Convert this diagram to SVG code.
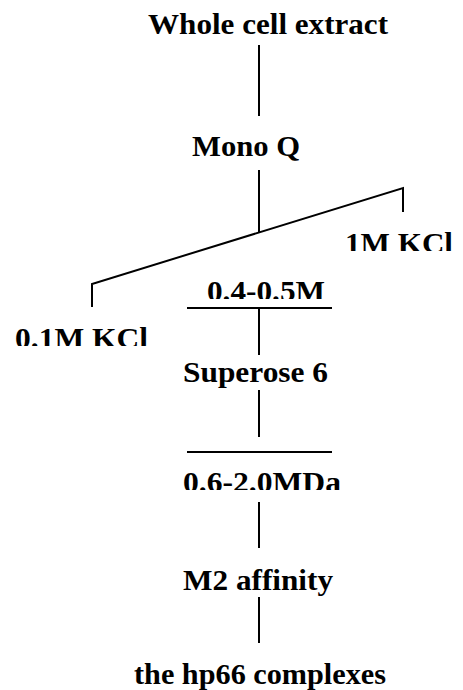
<svg xmlns="http://www.w3.org/2000/svg" width="463" height="690" viewBox="0 0 463 690">
<style>
text{font-family:'Liberation Serif','Times New Roman',serif;font-weight:bold;font-size:30px;fill:#000}
.c{stroke:#000;stroke-width:2;fill:none}
</style>
<defs>
<clipPath id="c1"><rect x="330" y="220" width="133" height="31"/></clipPath>
<clipPath id="c2"><rect x="0" y="315" width="170" height="31"/></clipPath>
<clipPath id="c3"><rect x="190" y="270" width="150" height="29"/></clipPath>
<clipPath id="c4"><rect x="170" y="462" width="190" height="28"/></clipPath>
</defs>
<rect width="463" height="690" fill="#fff"/>
<g id="connectors">
<line class="c" x1="259" y1="45" x2="259" y2="116"/>
<line class="c" x1="259" y1="170" x2="259" y2="233"/>
<polyline class="c" points="92,307 92,284 403,188 403,212"/>
<line class="c" x1="187" y1="308" x2="332" y2="308"/>
<line class="c" x1="259" y1="308" x2="259" y2="355"/>
<line class="c" x1="259" y1="390" x2="259" y2="437"/>
<line class="c" x1="187" y1="452" x2="332" y2="452"/>
<line class="c" x1="259" y1="502" x2="259" y2="548"/>
<line class="c" x1="259" y1="597" x2="259" y2="643"/>
</g>
<g id="whole-cell-extract"><text x="148" y="34" textLength="240" lengthAdjust="spacingAndGlyphs">Whole cell extract</text></g>
<g id="mono-q"><text x="192" y="156" textLength="108" lengthAdjust="spacingAndGlyphs">Mono Q</text></g>
<g id="kcl-1m" clip-path="url(#c1)"><text x="345" y="253" textLength="108" lengthAdjust="spacingAndGlyphs">1M KCl</text></g>
<g id="kcl-01m" clip-path="url(#c2)"><text x="15" y="348" textLength="133" lengthAdjust="spacingAndGlyphs">0.1M KCl</text></g>
<g id="fraction-04-05m" clip-path="url(#c3)"><text x="207" y="301" textLength="118" lengthAdjust="spacingAndGlyphs">0.4-0.5M</text></g>
<g id="superose-6"><text x="183" y="382" textLength="145" lengthAdjust="spacingAndGlyphs">Superose 6</text></g>
<g id="fraction-mda" clip-path="url(#c4)"><text x="183" y="492" textLength="158" lengthAdjust="spacingAndGlyphs">0.6-2.0MDa</text></g>
<g id="m2-affinity"><text x="183" y="590" textLength="150" lengthAdjust="spacingAndGlyphs">M2 affinity</text></g>
<g id="hp66-complexes"><text x="134" y="684" textLength="252" lengthAdjust="spacingAndGlyphs">the hp66 complexes</text></g>
</svg>
